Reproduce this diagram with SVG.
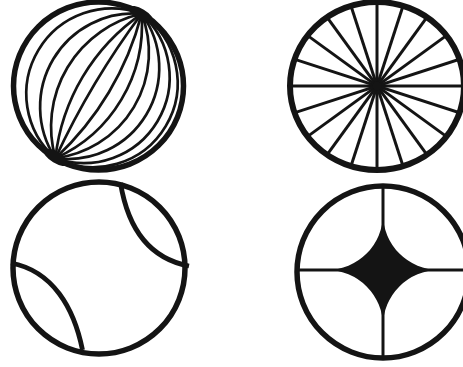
<svg xmlns="http://www.w3.org/2000/svg" width="463" height="367" viewBox="0 0 463 367">
<style>
.rim{fill:none;stroke:#141414;stroke-width:5.5}
.thin{fill:none;stroke:#141414;stroke-width:2.7}
.spoke{fill:none;stroke:#141414;stroke-width:3}
.seam{fill:none;stroke:#141414;stroke-width:4.8;stroke-linecap:butt}
.ink{fill:#141414}
</style>
<defs>
<clipPath id="wheelClip"><ellipse cx="377" cy="86" rx="87" ry="84"/></clipPath>
</defs>
<rect width="463" height="367" fill="#ffffff"/>

<g id="globe">
<path class="thin" d="M55.4,158.2 A824.6,824.6 0 0 1 141.6,13.8"/>
<path class="thin" d="M55.4,158.2 A202.4,202.4 0 0 1 141.6,13.8"/>
<path class="thin" d="M55.4,158.2 A115.8,115.8 0 0 1 141.6,13.8"/>
<path class="thin" d="M55.4,158.2 A93.5,93.5 0 0 1 141.6,13.8"/>
<path class="thin" d="M55.4,158.2 A85.5,85.5 0 0 1 141.6,13.8"/>
<path class="thin" d="M55.4,158.2 A298.3,298.3 0 0 0 141.6,13.8"/>
<path class="thin" d="M55.4,158.2 A146.3,146.3 0 0 0 141.6,13.8"/>
<path class="thin" d="M55.4,158.2 A106.4,106.4 0 0 0 141.6,13.8"/>
<path class="thin" d="M55.4,158.2 A91.3,91.3 0 0 0 141.6,13.8"/>
<path class="thin" d="M55.4,158.2 A85.8,85.8 0 0 0 141.6,13.8"/>
<path class="thin" d="M55.4,158.2 A84.3,84.3 0 0 0 141.6,13.8"/>
<ellipse class="rim" cx="98.5" cy="86" rx="85" ry="84"/>
<ellipse class="ink" cx="141" cy="14.5" rx="14" ry="5.5" transform="rotate(30.8 141 14.5)"/>
<ellipse class="ink" cx="56" cy="157.5" rx="14" ry="5.5" transform="rotate(30.8 56 157.5)"/>
</g>

<g id="wheel">
<g clip-path="url(#wheelClip)">
<g transform="translate(377,86)">
<line class="spoke" x1="-95" y1="0" x2="95" y2="0"/>
<line class="spoke" x1="-95" y1="0" x2="95" y2="0" transform="rotate(18)"/>
<line class="spoke" x1="-95" y1="0" x2="95" y2="0" transform="rotate(36)"/>
<line class="spoke" x1="-95" y1="0" x2="95" y2="0" transform="rotate(54)"/>
<line class="spoke" x1="-95" y1="0" x2="95" y2="0" transform="rotate(72)"/>
<line class="spoke" x1="-95" y1="0" x2="95" y2="0" transform="rotate(90)"/>
<line class="spoke" x1="-95" y1="0" x2="95" y2="0" transform="rotate(108)"/>
<line class="spoke" x1="-95" y1="0" x2="95" y2="0" transform="rotate(126)"/>
<line class="spoke" x1="-95" y1="0" x2="95" y2="0" transform="rotate(144)"/>
<line class="spoke" x1="-95" y1="0" x2="95" y2="0" transform="rotate(162)"/>
</g>
</g>
<circle class="ink" cx="377" cy="86" r="4.5"/>
<ellipse class="rim" cx="377" cy="86" rx="87" ry="84" style="stroke-width:6"/>
</g>

<g id="seamball">
<circle class="rim" cx="99" cy="268" r="86"/>
<path class="seam" d="M120.5,183 C127.5,226 147,258 189,266"/>
<path class="seam" d="M11,263 C53,271 74,308 82.5,350"/>
</g>

<g id="star">
<circle class="rim" cx="383" cy="272" r="86"/>
<line x1="383" y1="186" x2="383" y2="358" stroke="#141414" stroke-width="3"/>
<line x1="297" y1="270" x2="469" y2="270" stroke="#141414" stroke-width="3"/>
<path class="ink" d="M383,214 A56,56 0 0 0 439,270 A56,56 0 0 0 383,326 A56,56 0 0 0 327,270 A56,56 0 0 0 383,214 Z"/>
</g>
</svg>
